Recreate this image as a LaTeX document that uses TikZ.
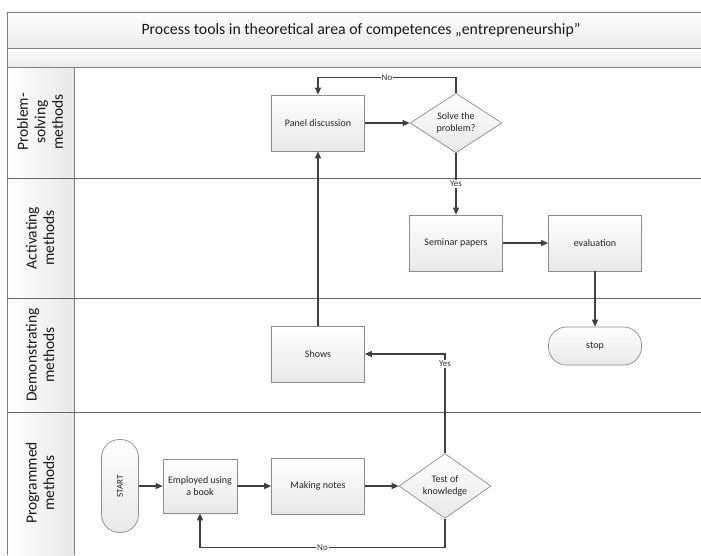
\documentclass[tikz,border=0pt]{standalone}
\usepackage{fontspec}
\setmainfont{Carlito}
\usetikzlibrary{shapes.geometric,arrows.meta}
\begin{document}
\begin{tikzpicture}[x=1pt,y=-1pt,
  frameline/.style={draw=black!50,line width=0.9pt},
  laneline/.style={draw=black!60,line width=0.9pt},
  lanelabel/.style={rotate=90,align=center,font=\fontsize{15.5}{17.5}\selectfont,text=black!90},
  boxnode/.style={draw=black!45,line width=0.7pt,top color=white,bottom color=black!9,
    minimum width=93pt,minimum height=56pt,inner sep=2pt,align=center,
    font=\fontsize{10}{12}\selectfont,text=black!85},
  decision/.style={diamond,draw=black!45,line width=0.7pt,top color=white,bottom color=black!9,
    minimum width=92pt,minimum height=55pt,inner sep=0pt,align=center,
    font=\fontsize{10}{12}\selectfont,text=black!85},
  terminal/.style={draw=black!45,line width=0.7pt,top color=white,bottom color=black!9,
    rounded corners=18pt,minimum width=93pt,minimum height=38pt,align=center,
    font=\fontsize{10}{12}\selectfont,text=black!85},
  arr/.style={draw=black!75,line width=1.1pt,-{Triangle[length=7pt,width=6pt]}},
  lbl/.style={fill=white,inner sep=1pt,font=\fontsize{9}{10}\selectfont,text=black!80}]
\useasboundingbox (0,0) rectangle (701,555);
% title bands
\shade[top color=white,bottom color=black!8] (7,12) rectangle (701,48);
\shade[top color=white,bottom color=black!8] (7,48) rectangle (701,67);
\shade[left color=white,right color=black!9] (7,67) rectangle (74,555);
\draw[frameline] (701,12) -- (7,12) -- (7,555);
\draw[frameline] (7,48) -- (701,48);
\draw[frameline] (7,67) -- (701,67);
\draw[frameline] (74,67) -- (74,555);
\draw[laneline] (7,178) -- (701,178);
\draw[laneline] (7,298) -- (701,298);
\draw[laneline] (7,412) -- (701,412);
\node[font=\fontsize{15.8}{18}\selectfont,text=black!90] (title) at (361,30) {Process tools in theoretical area of competences „entrepreneurship”};
% lane labels
\node[lanelabel] (l1) at (40,122) {Problem-\\solving\\methods};
\node[lanelabel] (l2) at (40,238) {Activating\\methods};
\node[lanelabel] (l3) at (40,355) {Demonstrating\\methods};
\node[lanelabel] (l4) at (40,483) {Programmed\\methods};
% nodes
\node[boxnode] (panel) at (318,123) {Panel discussion};
\node[decision] (solve) at (456,123) {Solve the\\problem?};
\node[boxnode] (seminar) at (456,243) {Seminar papers};
\node[boxnode] (eval) at (595,243) {evaluation};
\node[terminal] (stop) at (595,346) {stop};
\node[boxnode] (shows) at (318,354) {Shows};
\node[terminal,rotate=90,font=\fontsize{9}{10}\selectfont,minimum width=93pt,minimum height=37pt] (start) at (120,486) {START};
\node[boxnode,minimum width=74pt,minimum height=54pt] (emp) at (200,486) {Employed using\\a book};
\node[boxnode] (notes) at (318,486) {Making notes};
\node[decision] (test) at (445,486) {Test of\\knowledge};
% connectors
\draw[arr] (panel) -- (solve);
\draw[arr] (solve.north) -- ++(0,-15) -| node[lbl,pos=0.25]{No} (panel.north);
\draw[arr] (solve.south) -- node[lbl,pos=0.5]{Yes} (seminar.north);
\draw[arr] (seminar) -- (eval);
\draw[arr] (eval) -- (stop);
\draw[arr] (shows.north) -- (panel.south);
\draw[arr] (test.north) |- node[lbl,pos=0.45]{Yes} (shows.east);
\draw[arr] (start) -- (emp);
\draw[arr] (emp) -- (notes);
\draw[arr] (notes) -- (test);
\draw[arr] (test.south) -- ++(0,29) -| node[lbl,pos=0.25]{No} (emp.south);
\end{tikzpicture}
\end{document}
